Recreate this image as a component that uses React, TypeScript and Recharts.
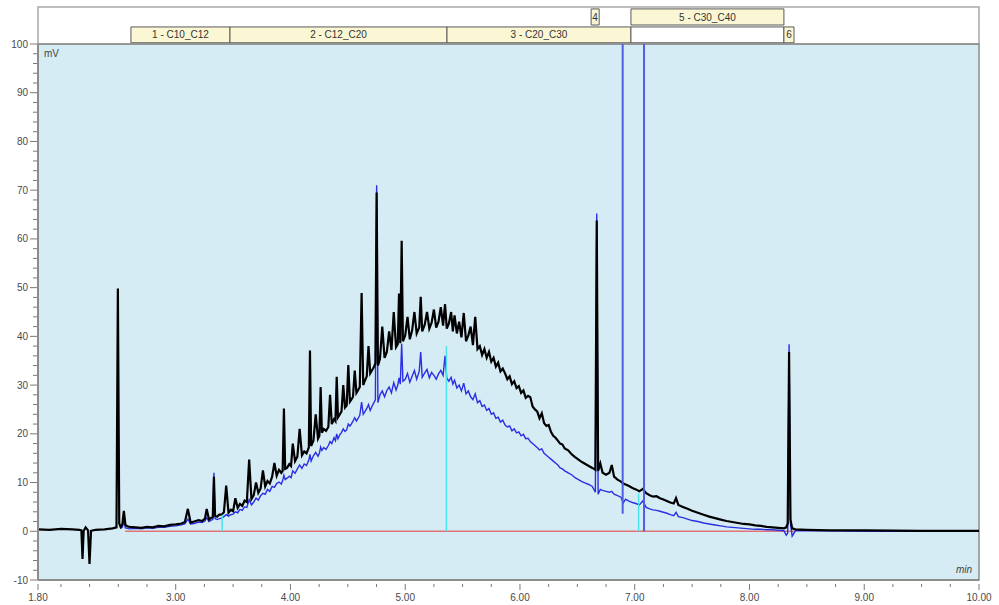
import { LineChart, Line, XAxis, YAxis, CartesianGrid, ReferenceArea, ReferenceLine } from 'recharts';

// retention time (min) - shared by both traces
const TIME = [
  1.80, 1.90, 2.00, 2.10, 2.16, 2.178, 2.188, 2.198, 2.215, 2.236, 2.249, 2.262, 2.30, 2.38, 2.45, 2.484, 2.496, 2.508, 2.52, 2.535, 2.548, 2.562, 2.58, 2.60,
  2.65, 2.70, 2.75, 2.80, 2.85, 2.90, 2.95, 3.00, 3.05, 3.08, 3.106, 3.13, 3.16, 3.20, 3.23, 3.255, 3.27, 3.29, 3.31, 3.323, 3.333, 3.343, 3.36, 3.38,
  3.40, 3.42, 3.44, 3.46, 3.48, 3.50, 3.52, 3.54, 3.56, 3.58, 3.60, 3.62, 3.64, 3.66, 3.68, 3.70, 3.72, 3.74, 3.76, 3.78,
  3.80, 3.82, 3.84, 3.86, 3.88, 3.90, 3.92, 3.932, 3.943, 3.954, 3.97, 3.99,
  4.005, 4.02, 4.04, 4.06, 4.08, 4.10, 4.12, 4.14, 4.16, 4.17, 4.18, 4.20, 4.22, 4.24, 4.252, 4.263, 4.274, 4.29, 4.31, 4.33, 4.345, 4.36, 4.38, 4.392,
  4.403, 4.414, 4.43, 4.445, 4.46, 4.475, 4.49, 4.504, 4.518, 4.53, 4.545, 4.56, 4.575, 4.59, 4.604, 4.62, 4.634, 4.65, 4.665, 4.68, 4.695, 4.71, 4.725, 4.74,
  4.751, 4.762, 4.78, 4.80, 4.82, 4.84, 4.86, 4.88, 4.90, 4.92, 4.935, 4.946, 4.957, 4.969, 4.98,
  5.00, 5.02, 5.04, 5.06, 5.08, 5.10, 5.122, 5.135, 5.148, 5.17, 5.19, 5.21, 5.23, 5.25, 5.27, 5.29, 5.31, 5.33, 5.347, 5.362, 5.38,
  5.40, 5.415, 5.43, 5.45, 5.47, 5.49, 5.51, 5.53, 5.55, 5.57, 5.59, 5.61, 5.63, 5.65, 5.67, 5.69, 5.71, 5.73, 5.75, 5.77, 5.79,
  5.81, 5.83, 5.85, 5.87, 5.89, 5.91, 5.93, 5.95, 5.97, 5.99, 6.01, 6.03, 6.05, 6.07, 6.09, 6.11, 6.13, 6.15, 6.17, 6.19,
  6.21, 6.23, 6.25, 6.27, 6.29, 6.31, 6.33, 6.35, 6.37, 6.39, 6.42, 6.45, 6.48, 6.51, 6.54, 6.57, 6.60, 6.63, 6.657, 6.669, 6.681,
  6.70, 6.72, 6.75, 6.78, 6.80, 6.82, 6.85, 6.88, 6.90, 6.92, 6.95, 6.98, 7.01, 7.04, 7.07, 7.10, 7.13, 7.16, 7.19,
  7.22, 7.25, 7.28, 7.31, 7.34, 7.36, 7.38, 7.42, 7.46, 7.50, 7.55, 7.60, 7.65, 7.70, 7.75, 7.80, 7.85, 7.90, 7.95,
  8.00, 8.05, 8.10, 8.15, 8.20, 8.25, 8.30, 8.32, 8.333, 8.345, 8.357, 8.372, 8.40, 8.50, 8.70, 9.00, 9.50, 10.00,
];

// black trace (mV)
const FID_A = [
  0.4, 0.3, 0.5, 0.4, 0.3, 0.2, -5.7, 0.1, 0.8, 0.2, -6.7, 0.1, 0.3, 0.4, 0.6, 0.8, 49.8, 1.6, 0.9, 1.4, 4.2, 1.3, 1.0, 0.9,
  0.8, 0.7, 0.9, 0.8, 1.1, 1.0, 1.3, 1.4, 1.6, 1.9, 4.6, 1.8, 2.0, 2.3, 2.1, 2.6, 4.6, 2.4, 2.8, 2.9, 11.2, 3.2, 3.0, 3.4,
  3.4, 3.9, 9.4, 3.8, 4.4, 4.1, 6.8, 4.8, 5.6, 5.2, 6.3, 6.0, 14.7, 6.6, 7.4, 10.0, 7.9, 8.8, 12.5, 9.2,
  10.3, 9.8, 11.2, 14.0, 11.4, 12.6, 12.0, 12.4, 25.2, 12.8, 13.0, 13.8,
  13.4, 18.0, 14.4, 15.3, 21.0, 15.6, 16.4, 16.0, 17.2, 37.1, 17.5, 18.6, 24.0, 19.0, 19.6, 29.6, 20.2, 21.0, 20.6, 21.4, 28.0, 22.0, 23.0, 22.6,
  31.7, 23.4, 24.0, 24.6, 30.0, 25.4, 25.8, 34.1, 26.6, 27.0, 27.6, 33.0, 28.4, 29.0, 29.6, 48.9, 30.0, 31.0, 31.8, 38.0, 32.4, 33.0, 33.6, 34.5,
  69.5, 34.0, 35.4, 42.0, 35.6, 36.8, 41.0, 37.2, 45.0, 37.8, 38.4, 48.8, 38.6, 59.6, 39.0,
  40.2, 44.0, 39.4, 41.2, 45.0, 40.6, 41.8, 48.1, 41.0, 42.4, 45.0, 41.6, 42.8, 45.5, 41.8, 43.0, 46.0, 42.2, 46.6, 41.6, 42.6,
  45.0, 41.0, 44.3, 40.6, 43.0, 39.8, 44.8, 39.0, 40.2, 42.0, 38.2, 44.0, 37.4, 38.0, 36.2, 37.4, 35.6, 36.8, 34.8, 35.6, 33.8,
  34.6, 32.8, 33.4, 32.4, 31.2, 31.8, 30.2, 30.8, 29.4, 29.8, 28.4, 28.9, 27.4, 27.8, 27.5, 25.6, 25.0, 24.6, 23.2, 24.2,
  22.2, 21.6, 21.8, 20.4, 19.6, 19.2, 18.6, 18.0, 17.8, 17.0, 16.6, 15.8, 15.2, 14.7, 14.2, 13.8, 13.4, 13.0, 12.6, 63.8, 12.4,
  13.9, 12.0, 11.6, 12.0, 13.6, 11.2, 10.6, 10.2, 9.8, 9.6, 9.3, 8.9, 8.6, 8.2, 8.7, 7.8, 7.4, 7.1, 7.2,
  6.8, 6.5, 6.2, 5.9, 5.7, 6.8, 5.4, 5.0, 4.6, 4.2, 3.8, 3.4, 3.0, 2.7, 2.4, 2.1, 1.9, 1.7, 1.5,
  1.4, 1.2, 1.1, 0.9, 0.8, 0.7, 0.6, 0.8, 1.6, 36.8, 2.4, 0.6, 0.4, 0.3, 0.2, 0.2, 0.1, 0.1,
];

// blue trace (mV), starts after the solvent region
const FID_B = [
  null, null, null, null, null, null, null, null, null, null, null, null, null, null, null, null, null, null, 0.6, 0.8, 2.0, 0.7, 0.6, 0.5,
  0.6, 0.5, 0.7, 0.6, 0.8, 0.8, 1.0, 1.1, 1.3, 1.5, 2.5, 1.5, 1.6, 1.9, 1.8, 2.1, 2.8, 2.0, 2.3, 2.4, 12.0, 2.6, 2.4, 2.6,
  2.7, 3.0, 3.4, 3.1, 3.4, 3.5, 4.0, 3.8, 4.5, 4.3, 5.0, 4.9, 6.5, 5.4, 6.0, 6.8, 6.4, 7.3, 7.8, 7.6,
  8.6, 8.2, 9.2, 9.0, 9.8, 10.1, 9.7, 10.4, 11.5, 10.6, 10.9, 11.3,
  11.0, 12.4, 11.9, 12.8, 13.6, 12.9, 13.8, 13.5, 14.6, 15.8, 14.4, 15.5, 16.2, 15.4, 16.0, 17.3, 16.6, 17.2, 16.8, 17.6, 18.4, 18.0, 19.2, 18.6,
  20.0, 19.0, 19.8, 20.3, 21.0, 20.5, 20.8, 22.0, 21.6, 22.0, 22.6, 23.3, 22.6, 23.2, 23.8, 26.5, 24.0, 24.6, 25.2, 26.0, 24.8, 25.6, 26.3, 27.0,
  71.0, 26.4, 28.0, 28.8, 27.6, 28.9, 29.6, 28.4, 30.5, 29.0, 30.0, 31.5, 30.2, 38.5, 30.8,
  31.2, 32.4, 30.6, 31.8, 33.0, 31.2, 32.8, 36.8, 31.6, 32.5, 33.2, 31.5, 32.6, 32.0, 31.2, 32.3, 33.0, 32.0, 36.0, 31.4, 30.8,
  31.6, 30.2, 31.0, 29.4, 30.0, 28.8, 30.4, 28.2, 28.8, 27.6, 27.0, 28.2, 26.4, 26.8, 25.6, 25.9, 24.8, 25.2, 24.0, 24.3, 23.2,
  23.4, 22.4, 22.8, 21.8, 21.4, 21.6, 20.6, 21.0, 20.2, 20.4, 19.6, 19.9, 19.0, 19.1, 18.4, 18.0, 17.6, 17.2, 16.7, 16.9,
  16.0, 15.6, 15.2, 14.8, 14.4, 14.0, 13.6, 13.0, 12.8, 12.4, 12.0, 11.6, 11.0, 10.6, 10.2, 9.9, 9.6, 9.2, 8.0, 65.2, 7.6,
  8.6, 8.4, 8.2, 8.0, 8.2, 7.6, 7.3, 7.0, 5.8, 6.6, 6.2, 5.9, 5.7, 5.4, 6.2, 4.9, 4.6, 4.4, 4.3,
  4.1, 3.9, 3.7, 3.4, 3.2, 3.9, 3.0, 2.8, 2.5, 2.2, 2.0, 1.7, 1.5, 1.3, 1.1, 0.9, 0.8, 0.7, 0.6,
  0.5, 0.4, 0.4, 0.3, 0.3, 0.2, 0.1, -0.8, -0.4, 38.4, 1.6, -1.0, 0.1, 0.1, 0.1, 0.0, 0.0, 0.0,
];

// integration windows (header bands)
const WIN_LABEL = ['1 - C10_C12', '2 - C12_C20', '3 - C20_C30', '', '6', '4', '5 - C30_C40'];
const WIN_FROM = [2.61, 3.473, 5.364, 6.967, 8.30, 6.62, 6.967];
const WIN_TO = [3.473, 5.364, 6.967, 8.30, 8.388, 6.69, 8.30];
const WIN_ROW = [0, 0, 0, 0, 0, 1, 1];

// blue marker lines, cyan cut lines, red baseline
const MARK_T = [6.895, 7.081];
const MARK_LOW = [3.6, 0];
const CUT_T = [3.405, 5.359, 7.034];
const CUT_TOP = [3.4, 38, 7.8];
const BASE_T = [2.56, 8.39];

const X_MAJOR = [1.8, 3, 4, 5, 6, 7, 8, 9, 10];
const X_TICKS = [1.8, 2, 2.25, 2.5, 2.75, 3, 3.25, 3.5, 3.75, 4, 4.25, 4.5, 4.75, 5, 5.25, 5.5, 5.75, 6, 6.25, 6.5, 6.75, 7, 7.25, 7.5, 7.75, 8, 8.25, 8.5, 8.75, 9, 9.25, 9.5, 9.75, 10];
const Y_TICKS = [-10, -8, -6, -4, -2, 0, 2, 4, 6, 8, 10, 12, 14, 16, 18, 20, 22, 24, 26, 28, 30, 32, 34, 36, 38, 40, 42, 44, 46, 48, 50, 52, 54, 56, 58, 60, 62, 64, 66, 68, 70, 72, 74, 76, 78, 80, 82, 84, 86, 88, 90, 92, 94, 96, 98, 100];

const data = TIME.map((t, i) => ({ t, a: FID_A[i], b: FID_B[i] }));

const ROW_Y = [[100.25, 103.5], [103.9, 107.2]];

const XTick = (props: any) => {
  const { x, y, payload } = props;
  const v = payload.value as number;
  const major = X_MAJOR.includes(v);
  return (
    <g>
      <line x1={x} x2={x} y1={y + 4} y2={y + (major ? 10 : 7)} stroke="#7a7a7a" />
      {major && (
        <text x={x} y={y + 21} textAnchor="middle" fontSize={10} fill="#4a4a4a">
          {v.toFixed(2)}
        </text>
      )}
    </g>
  );
};

const YTick = (props: any) => {
  const { x, y, payload } = props;
  const v = payload.value as number;
  const major = v % 10 === 0;
  return (
    <g>
      <line x1={x - (major ? 8 : 5)} x2={x - 1} y1={y} y2={y} stroke="#7a7a7a" />
      {major && (
        <text x={x - 10} y={y + 3.5} textAnchor="end" fontSize={10} fill="#4a4a4a">
          {v}
        </text>
      )}
    </g>
  );
};

export default function App() {
  return (
    <div style={{ width: 999, height: 605, background: '#fff', fontFamily: '"Liberation Sans", Arial, sans-serif' }}>
      <style>{'body{margin:0}'}</style>
      <LineChart width={999} height={605} data={data} margin={{ top: 44, right: 20, bottom: 0, left: 0 }}>
        <CartesianGrid horizontal={false} vertical={false} fill="#d6ecf4" />
        <XAxis
          dataKey="t"
          type="number"
          domain={[1.8, 10]}
          ticks={X_TICKS}
          interval={0}
          height={25}
          tickSize={0}
          tickMargin={0}
          tickLine={false}
          axisLine={{ stroke: '#8c8c8c', strokeWidth: 2 }}
          tick={<XTick />}
          allowDataOverflow
        />
        <YAxis
          type="number"
          domain={[-10, 100]}
          ticks={Y_TICKS}
          interval={0}
          width={38}
          tickSize={0}
          tickMargin={0}
          tickLine={false}
          axisLine={{ stroke: '#8c8c8c', strokeWidth: 2 }}
          tick={<YTick />}
          allowDataOverflow
        />

        {/* header frame with the window bands */}
        <ReferenceArea x1={1.8} x2={10} y1={100} y2={107.6} ifOverflow="visible" fill="#ffffff" fillOpacity={1} stroke="#a8a8a8" strokeWidth={1.5} />
        {WIN_LABEL.map((name, i) => (
          <ReferenceArea
            key={'w' + i}
            x1={WIN_FROM[i]}
            x2={WIN_TO[i]}
            y1={ROW_Y[WIN_ROW[i]][0]}
            y2={ROW_Y[WIN_ROW[i]][1]}
            ifOverflow="visible"
            fill={name === '' ? '#ffffff' : '#fbf7d4'}
            fillOpacity={1}
            stroke="#5a5a5a"
            strokeWidth={1}
            label={{ value: name, position: 'center', fontSize: 10, fill: '#333' }}
          />
        ))}

        {/* plot frame + unit labels */}
        <ReferenceArea x1={1.8} x2={10} y1={-10} y2={100} ifOverflow="visible" fill="none" stroke="#8c8c8c" strokeWidth={1.5}
          label={{ value: 'mV', position: 'insideTopLeft', offset: 6, fontSize: 10, fill: '#444' }} />
        <ReferenceArea x1={1.8} x2={10} y1={-10} y2={100} ifOverflow="visible" fill="none" stroke="none"
          label={{ value: 'min', position: 'insideBottomRight', offset: 7, fontSize: 10, fill: '#444', fontStyle: 'italic' }} />

        <ReferenceLine segment={[{ x: BASE_T[0], y: 0 }, { x: BASE_T[1], y: 0 }]} stroke="#e07474" strokeWidth={1.5} />

        <Line type="linear" dataKey="b" stroke="#2a2fe2" strokeWidth={1.4} dot={false} activeDot={false} isAnimationActive={false} connectNulls={false} />
        <Line type="linear" dataKey="a" stroke="#000000" strokeWidth={2.2} dot={false} activeDot={false} isAnimationActive={false} />

        {CUT_T.map((t, i) => (
          <ReferenceLine key={'c' + i} segment={[{ x: t, y: 0 }, { x: t, y: CUT_TOP[i] }]} stroke="#4fe1ea" strokeWidth={1.5} />
        ))}
        {MARK_T.map((t, i) => (
          <ReferenceLine key={'m' + i} segment={[{ x: t, y: 100 }, { x: t, y: MARK_LOW[i] }]} stroke="#4f5fe3" strokeWidth={2} />
        ))}
      </LineChart>
    </div>
  );
}
